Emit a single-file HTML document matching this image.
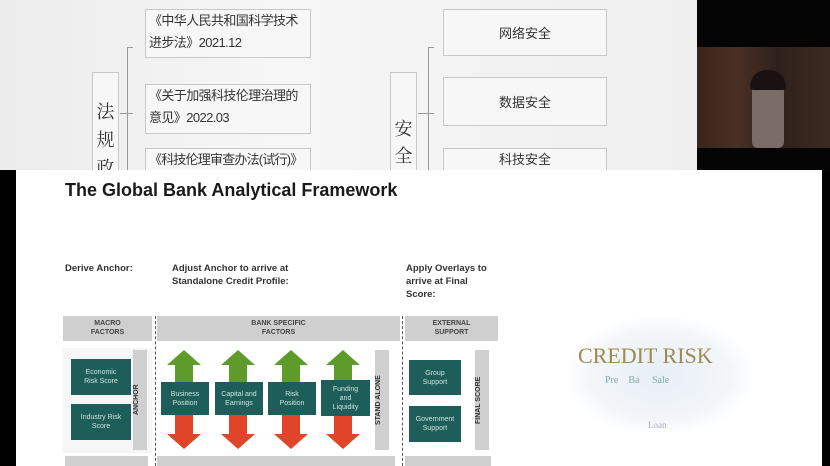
<!DOCTYPE html>
<html><head><meta charset="utf-8"><style>
*{margin:0;padding:0;box-sizing:border-box}
body{width:830px;height:466px;overflow:hidden;position:relative;background:#f1f1f1;font-family:"Liberation Sans","Noto Sans CJK SC",sans-serif}
.a{position:absolute}
.cb{position:absolute;background:#f7f7f7;border:1px solid #c8c8c8;color:#333;font-size:13px;line-height:22px;white-space:nowrap;overflow:hidden}
.teal{position:absolute;background:#1d5d5a;color:#cfe3e0;font-size:7px;text-align:center;display:flex;align-items:center;justify-content:center;line-height:9px}
.gv{position:absolute;background:#cfcfcf;font-size:7px;font-weight:bold;color:#333;writing-mode:vertical-rl;transform:rotate(180deg);text-align:center}
.hd{position:absolute;background:#cfcfcf;top:316px;height:25px;font-size:7px;font-weight:bold;color:#444;text-align:center;line-height:9px;padding-top:3px}
.lb{position:absolute;font-size:9.5px;font-weight:bold;color:#333;line-height:13px}
</style></head><body>
<div class="a" style="left:0;top:0;width:697px;height:170px;background:linear-gradient(90deg,#ececec,#f6f6f6 40%,#efefef)"></div>
<div class="cb" style="left:145px;top:9px;width:166px;height:49px;padding:0 3px;letter-spacing:-0.6px">《中华人民共和国科学技术<br>进步法》2021.12</div>
<div class="cb" style="left:145px;top:84px;width:166px;height:50px;padding:0 3px;letter-spacing:-0.6px">《关于加强科技伦理治理的<br>意见》2022.03</div>
<div class="cb" style="left:145px;top:148px;width:166px;height:30px;padding:0 3px;letter-spacing:-0.8px">《科技伦理审查办法(试行)》</div>
<div class="cb" style="left:443px;top:9px;width:164px;height:47px;text-align:center;line-height:47px">网络安全</div>
<div class="cb" style="left:443px;top:77px;width:164px;height:49px;text-align:center;line-height:49px">数据安全</div>
<div class="cb" style="left:443px;top:148px;width:164px;height:30px;text-align:center">科技安全</div>
<div class="cb" style="left:92px;top:72px;width:27px;height:110px;font-size:18px;text-align:center;padding-top:24px;line-height:28px;font-family:'Noto Serif CJK SC',serif">法<br>规<br>政</div>
<div class="cb" style="left:390px;top:72px;width:27px;height:110px;font-size:18px;text-align:center;padding-top:42px;line-height:27px;font-family:'Noto Serif CJK SC',serif">安<br>全<br>性</div>
<div class="a" style="left:127px;top:47px;width:1px;height:123px;background:#999"></div>
<div class="a" style="left:127px;top:47px;width:6px;height:1px;background:#999"></div>
<div class="a" style="left:120px;top:113px;width:13px;height:1px;background:#999"></div>
<div class="a" style="left:428px;top:47px;width:1px;height:123px;background:#999"></div>
<div class="a" style="left:428px;top:47px;width:6px;height:1px;background:#999"></div>
<div class="a" style="left:418px;top:113px;width:16px;height:1px;background:#999"></div>
<div class="a" style="left:697px;top:0;width:133px;height:172px;background:#050505"></div>
<div class="a" style="left:697px;top:47px;width:133px;height:101px;background:linear-gradient(90deg,#3a2418,#4a3024 30%,#2e211c 60%,#3c2a20)"></div>
<div class="a" style="left:752px;top:78px;width:32px;height:70px;background:#7a6c68;border-radius:14px 14px 6px 6px"></div>
<div class="a" style="left:750px;top:70px;width:36px;height:20px;background:#1a1210;border-radius:18px 18px 4px 4px"></div>
<div class="a" style="left:0;top:170px;width:16px;height:296px;background:#000"></div>
<div class="a" style="left:822px;top:172px;width:8px;height:294px;background:#000"></div>
<div class="a" style="left:16px;top:170px;width:806px;height:296px;background:#fff"></div>
<div class="a" style="left:65px;top:180px;font-size:18px;font-weight:bold;color:#1a1a1a">The Global Bank Analytical Framework</div>
<div class="lb" style="left:65px;top:262px">Derive Anchor:</div>
<div class="lb" style="left:172px;top:262px">Adjust Anchor to arrive at<br>Standalone Credit Profile:</div>
<div class="lb" style="left:406px;top:262px">Apply Overlays to<br>arrive at Final<br>Score:</div>
<div class="hd" style="left:63px;width:89px">MACRO<br>FACTORS</div>
<div class="hd" style="left:157px;width:243px">BANK SPECIFIC<br>FACTORS</div>
<div class="hd" style="left:405px;width:93px">EXTERNAL<br>SUPPORT</div>
<div class="a" style="left:155px;top:316px;height:150px;border-left:1px dashed #555"></div>
<div class="a" style="left:402px;top:316px;height:150px;border-left:1px dashed #555"></div>
<div class="a" style="left:63px;top:348px;width:89px;height:105px;background:#f6f6f6"></div>
<div class="teal" style="left:71px;top:359px;width:60px;height:36px">Economic<br>Risk Score</div>
<div class="teal" style="left:71px;top:404px;width:60px;height:36px">Industry Risk<br>Score</div>
<div class="gv" style="left:133px;top:350px;width:14px;height:100px">ANCHOR</div>
<svg class="a" style="left:155px;top:345px" width="250" height="110">
<g fill="#5e9b2a"><polygon points="29,5 46,20 38,20 38,38 20,38 20,20 12,20"/><polygon points="83,5 100,20 92,20 92,38 74,38 74,20 66,20"/><polygon points="136,5 153,20 145,20 145,38 127,38 127,20 119,20"/><polygon points="188,5 205,20 197,20 197,38 179,38 179,20 171,20"/></g>
<g fill="#e0452a"><polygon points="29,104 46,89 38,89 38,69 20,69 20,89 12,89"/><polygon points="83,104 100,89 92,89 92,69 74,69 74,89 66,89"/><polygon points="136,104 153,89 145,89 145,69 127,69 127,89 119,89"/><polygon points="188,104 205,89 197,89 197,69 179,69 179,89 171,89"/></g>
</svg>
<div class="teal" style="left:161px;top:382px;width:48px;height:33px">Business<br>Position</div>
<div class="teal" style="left:215px;top:382px;width:48px;height:33px">Capital and<br>Earnings</div>
<div class="teal" style="left:268px;top:382px;width:48px;height:33px">Risk<br>Position</div>
<div class="teal" style="left:321px;top:380px;width:49px;height:36px">Funding<br>and<br>Liquidity</div>
<div class="gv" style="left:375px;top:350px;width:14px;height:100px">STAND ALONE</div>
<div class="teal" style="left:409px;top:360px;width:52px;height:35px">Group<br>Support</div>
<div class="teal" style="left:409px;top:406px;width:52px;height:36px">Government<br>Support</div>
<div class="gv" style="left:475px;top:350px;width:14px;height:100px">FINAL SCORE</div>
<div class="a" style="left:65px;top:456px;width:83px;height:10px;background:#cfcfcf"></div>
<div class="a" style="left:157px;top:456px;width:238px;height:10px;background:#cfcfcf"></div>
<div class="a" style="left:405px;top:456px;width:86px;height:10px;background:#cfcfcf"></div>
<div class="a" style="left:570px;top:318px;width:180px;height:115px;background:radial-gradient(ellipse,#e6eef5 0%,#f3f6f9 55%,#fff 75%)"></div>
<div class="a" style="left:578px;top:343px;font-family:'Liberation Serif',serif;font-size:22px;color:#9c8a52">CREDIT RISK</div>
<div class="a" style="left:605px;top:375px;font-family:'Liberation Serif',serif;font-size:10px;color:#8aa">Pre&nbsp;&nbsp;&nbsp;&nbsp;Ba&nbsp;&nbsp;&nbsp;&nbsp;&nbsp;Sale</div>
<div class="a" style="left:648px;top:420px;font-family:'Liberation Serif',serif;font-size:9px;color:#aab">Loan</div>
</body></html>
